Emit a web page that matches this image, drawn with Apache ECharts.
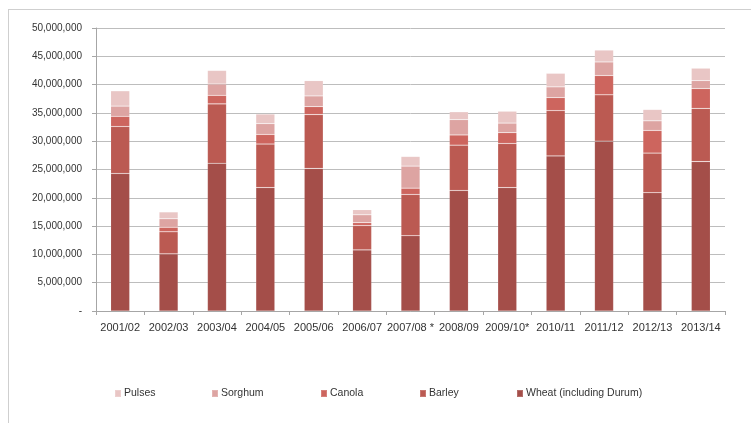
<!DOCTYPE html>
<html>
<head>
<meta charset="utf-8">
<script src="https://cdn.jsdelivr.net/npm/echarts@6/dist/echarts.min.js"></script>
<style>
  html, body { margin: 0; padding: 0; background: #fff; }
  #wrap { position: relative; width: 751px; height: 423px; overflow: hidden; }
  #frame { position: absolute; left: 8px; top: 9px; width: 760px; height: 430px;
           border-left: 1px solid #cfcfcf; border-top: 1px solid #cfcfcf; box-sizing: border-box; }
  #chart { position: absolute; left: 0; top: 0; width: 751px; height: 423px; }
</style>
</head>
<body>
<div id="wrap">
  <div id="frame"></div>
  <div id="chart"></div>
</div>
<script>
const categories = ['2001/02','2002/03','2003/04','2004/05','2005/06','2006/07','2007/08 *','2008/09','2009/10*','2010/11','2011/12','2012/13','2013/14'];
// values in tonnes
const wheat   = [24300000, 10100000, 26100000, 21800000, 25200000, 10800000, 13300000, 21300000, 21800000, 27400000, 30000000, 20900000, 26400000];
const barley  = [ 8300000,  3900000, 10500000,  7700000,  9500000,  4300000,  7300000,  8000000,  7800000,  8000000,  8200000,  7000000,  9400000];
const canola  = [ 1800000,   800000,  1500000,  1700000,  1400000,   500000,  1100000,  1800000,  1900000,  2300000,  3400000,  4000000,  3500000];
const sorghum = [ 1800000,  1500000,  2000000,  1900000,  1900000,  1400000,  3900000,  2700000,  1700000,  1900000,  2400000,  1700000,  1400000];
const pulses  = [ 2700000,  1200000,  2400000,  1700000,  2700000,   900000,  1700000,  1400000,  2100000,  2400000,  2100000,  2000000,  2200000];
const yTicks  = { min: 0, max: 50000000, interval: 5000000 };

const names = ['Wheat (including Durum)', 'Barley', 'Canola', 'Sorghum', 'Pulses'];
const colors = ['#a44e49', '#bb5a52', '#cd655e', '#dda4a2', '#e9c6c5'];
const seriesData = [wheat, barley, canola, sorghum, pulses];

const legendOrder = ['Pulses', 'Sorghum', 'Canola', 'Barley', 'Wheat (including Durum)'];
const legendLeft = [114, 211, 320, 419, 516];

const font = '"Liberation Sans", Arial, sans-serif';

const chart = echarts.init(document.getElementById('chart'), null, { renderer: 'canvas' });

function fmt(v) {
  if (v === 0) return '-';
  return String(v).replace(/\B(?=(\d{3})+(?!\d))/g, ',');
}

chart.setOption({
  animation: false,
  backgroundColor: 'transparent',
  grid: { left: 96, right: 26, top: 28, bottom: 112, containLabel: false },
  legend: legendOrder.map((n, i) => ({
    data: [n],
    left: legendLeft[i],
    top: 388,
    icon: 'rect',
    itemWidth: 6,
    itemHeight: 7,
    padding: 0,
    selectedMode: false,
    textStyle: { fontFamily: font, fontSize: 10.5, color: '#333', padding: [0, 0, 0, -2] }
  })),
  xAxis: {
    type: 'category',
    data: categories,
    boundaryGap: true,
    axisLine: { lineStyle: { color: '#a6a6a6', width: 1 } },
    axisTick: { show: true, length: 4, inside: false, alignWithLabel: false, lineStyle: { color: '#a6a6a6' } },
    axisLabel: { interval: 0, margin: 11, fontFamily: font, fontSize: 11, color: '#333' },
    splitLine: { show: false }
  },
  yAxis: {
    type: 'value',
    min: yTicks.min,
    max: yTicks.max,
    interval: yTicks.interval,
    axisLine: { show: true, lineStyle: { color: '#a6a6a6', width: 1 } },
    axisTick: { show: true, length: 4, lineStyle: { color: '#a6a6a6' } },
    axisLabel: { margin: 14, fontFamily: font, fontSize: 10, color: '#333', formatter: fmt },
    splitLine: { show: true, lineStyle: { color: '#bdbdbd', width: 1 } }
  },
  series: names.map((n, i) => ({
    name: n,
    type: 'bar',
    stack: 'total',
    barWidth: 19,
    data: seriesData[i],
    itemStyle: { color: colors[i], borderColor: 'rgba(255,255,255,0.18)', borderWidth: 0.6 },
    emphasis: { disabled: true }
  }))
});
</script>
</body>
</html>
